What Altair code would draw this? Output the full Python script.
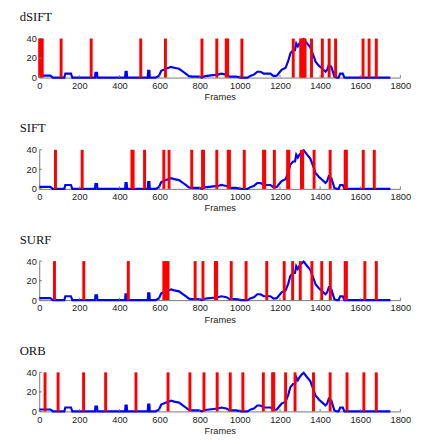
import altair as alt
import pandas as pd

# Blue curve (same in every panel): frame index and value
frames = [0, 55, 62, 68, 125, 130, 158, 165, 278, 280, 288, 290, 428, 430, 436, 438,
          541, 543, 549, 551, 580, 597, 608, 620, 632, 645, 657, 673, 685, 697, 714,
          730, 746, 762, 795, 805, 811, 827, 868, 890, 908, 920, 933, 949, 981, 1006,
          1038, 1054, 1070, 1087, 1103, 1119, 1152, 1168, 1184, 1200, 1208, 1228, 1241,
          1252, 1265, 1275, 1281, 1289, 1297, 1309, 1318, 1335, 1351, 1362, 1378, 1395,
          1411, 1427, 1435, 1443, 1456, 1471, 1484, 1492, 1500, 1513, 1521, 1750]
motion = [2, 2, 1, 0, 0, 4, 4, 0, 0, 5, 5, 0, 0, 6, 6, 0,
          0, 7, 7, 0, 0, 2, 7, 8, 9, 10, 11, 10, 9.5, 9, 6.5,
          4, 1.5, 1, 1, 0.5, 0, 1.5, 2.5, 3, 4, 3.5, 3, 1, 1, 0,
          0, 2, 3, 6, 6, 4, 4, 1.5, 2, 6, 8, 10, 17,
          25, 28, 28, 35, 32, 35, 38, 39.5, 35, 31, 25, 16, 12,
          9, 6, 8, 13, 11, 1, 0, 0, 4, 4, 0, 0]

# Keyframes selected by each method
key_dsift = [2, 9, 15, 109, 259, 506, 629, 811, 885, 932, 939, 1010, 1266, 1303, 1310,
             1318, 1325, 1357, 1411, 1445, 1477, 1614, 1644, 1680]
key_sift = [81, 214, 462, 468, 525, 621, 647, 760, 814, 819, 885, 942, 948, 1022, 1118,
            1124, 1172, 1238, 1244, 1307, 1313, 1370, 1450, 1525, 1531, 1615, 1670]
key_surf = [76, 222, 444, 621, 628, 635, 642, 777, 816, 878, 884, 957, 1031, 1134, 1221,
            1263, 1301, 1359, 1408, 1451, 1525, 1531, 1623, 1680]
key_orb = [29, 94, 221, 331, 482, 642, 751, 821, 887, 952, 1015, 1117, 1163, 1169, 1228,
           1275, 1367, 1450, 1534, 1618, 1680]

methods = ["dSIFT", "SIFT", "SURF", "ORB"]
keysets = [key_dsift, key_sift, key_surf, key_orb]

x_ticks = [0, 200, 400, 600, 800, 1000, 1200, 1400, 1600, 1800]
y_ticks = [0, 20, 40]

line_df = pd.DataFrame({"frame": frames, "value": motion})
xt_df = pd.DataFrame({"t": x_ticks})
yt_df = pd.DataFrame({"t": y_ticks})

xscale = alt.Scale(domain=[0, 1800], nice=False, zero=False)
yscale = alt.Scale(domain=[0, 40], nice=False)

AX = dict(domainColor="#777777", domainWidth=1, ticks=False, grid=False, format="d",
          labelFont="Liberation Sans", labelFontSize=9.5, labelColor="#222222",
          titleFont="Liberation Sans", titleFontSize=9.5, titleColor="#222222",
          titleFontWeight="normal", labelPadding=3)

xaxis = alt.Axis(values=x_ticks, title="Frames", titlePadding=2, labelFlush=False, **AX)
yaxis = alt.Axis(values=y_ticks, title=None, **AX)


def panel(name, keys):
    kdf = pd.DataFrame({"frame": keys})
    line = alt.Chart(line_df).mark_line(color="#0000ff", strokeWidth=2.2).encode(
        x=alt.X("frame:Q", scale=xscale, axis=xaxis, title="Frames"),
        y=alt.Y("value:Q", scale=yscale, axis=yaxis, title=None),
    )
    bars = alt.Chart(kdf).mark_rule(color="#ff0000", strokeWidth=3).encode(
        x=alt.X("frame:Q", scale=xscale, axis=xaxis, title="Frames"),
        y=alt.datum(0, scale=yscale, axis=yaxis, title=None),
        y2=alt.datum(40),
    )
    xt = alt.Chart(xt_df).mark_rule(color="#777777", strokeWidth=1).encode(
        x=alt.X("t:Q", scale=xscale, axis=xaxis, title="Frames"),
        y=alt.datum(0, scale=yscale, axis=yaxis, title=None),
        y2=alt.datum(2.5),
    )
    yt = alt.Chart(yt_df).mark_rule(color="#777777", strokeWidth=1).encode(
        y=alt.Y("t:Q", scale=yscale, axis=yaxis, title=None),
        x=alt.datum(0, scale=xscale, axis=xaxis, title="Frames"),
        x2=alt.datum(13),
    )
    return alt.layer(line, bars, xt, yt).properties(
        width=370, height=40,
        title=alt.TitleParams(name, anchor="start", frame="group", dx=-20,
                              font="Liberation Serif", fontSize=13,
                              fontWeight="normal", color="#111111", offset=10),
    )


chart = alt.vconcat(*[panel(m, k) for m, k in zip(methods, keysets)], spacing=22).properties(
    padding={"left": 12, "top": -2, "right": 5, "bottom": 0},
    background="white",
).configure_view(stroke=None)

chart.save("out.html", embed_options={"renderer": "svg", "actions": False})
